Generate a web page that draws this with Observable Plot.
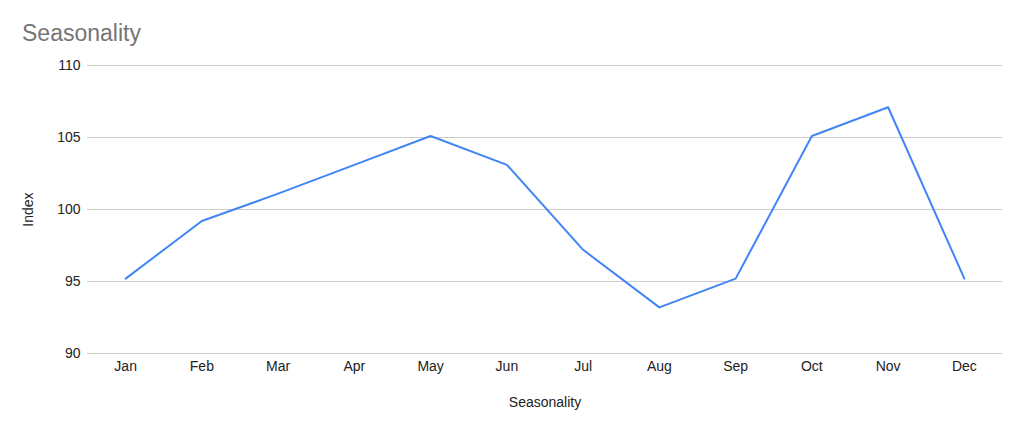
<!DOCTYPE html>
<html>
<head>
<meta charset="utf-8">
<script src="https://cdn.jsdelivr.net/npm/d3@7"></script>
<script src="https://cdn.jsdelivr.net/npm/@observablehq/plot@0.6"></script>
<style>
  html, body { margin: 0; padding: 0; background: #fff; }
  #title { height: 50px; box-sizing: border-box; padding: 19px 0 0 22px; font: 23px "Liberation Sans", Arial, sans-serif; color: #757575; line-height: 28px; }
  #chart svg { display: block; }
</style>
</head>
<body>
<div id="title">Seasonality</div>
<div id="chart"></div>
<script>
const months = ["Jan","Feb","Mar","Apr","May","Jun","Jul","Aug","Sep","Oct","Nov","Dec"];
const indexValues = [95.2, 99.2, 101.1, 103.1, 105.1, 103.1, 97.2, 93.2, 95.2, 105.1, 107.1, 95.2];
const yTicks = [90, 95, 100, 105, 110];

const data = months.map((m, i) => ({month: m, value: indexValues[i]}));

const chart = Plot.plot({
  width: 1024,
  height: 381,
  marginTop: 15,
  marginBottom: 78,
  marginLeft: 87,
  marginRight: 22,
  style: {fontFamily: '"Liberation Sans", Arial, sans-serif', fontSize: "14px", color: "#222", background: "#fff"},
  x: {type: "point", domain: months, padding: 0.5, round: false, label: null},
  y: {domain: [90, 110], label: null},
  marks: [
    Plot.ruleY(yTicks, {stroke: "#cccccc", strokeWidth: 1}),
    Plot.axisY({ticks: yTicks, tickSize: 0, tickPadding: 7, label: "Index", labelAnchor: "center", labelArrow: "none", labelOffset: 64, fontSize: 14}),
    Plot.axisX({tickSize: 0, tickPadding: 8, label: "Seasonality", labelAnchor: "center", labelArrow: "none", labelOffset: 53, fontSize: 14}),
    Plot.line(data, {x: "month", y: "value", stroke: "#4285F4", strokeWidth: 2})
  ]
});
document.getElementById("chart").appendChild(chart);
</script>
</body>
</html>
